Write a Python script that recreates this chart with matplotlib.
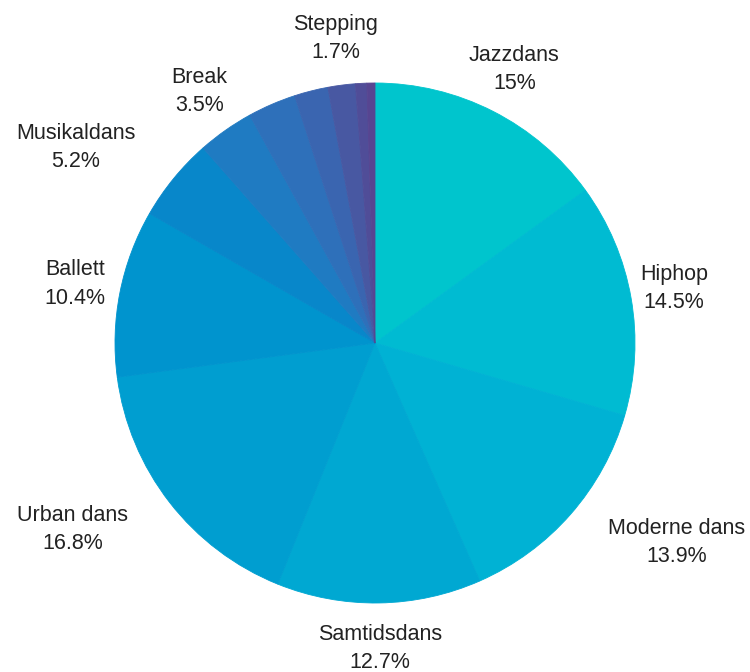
import numpy as np
import matplotlib
matplotlib.use("Agg")
import matplotlib.pyplot as plt

# 数据（顺时针，从正上方开始）
names = ["Jazzdans", "Hiphop", "Moderne dans", "Samtidsdans", "Urban dans",
         "Ballett", "Musikaldans", "Break", None, None, "Stepping", None, None]
values = [15, 14.5, 13.9, 12.7, 16.8, 10.4, 5.2, 3.5, 3.0, 2.1, 1.7, 0.7, 0.5]
pct_labels = ["15%", "14.5%", "13.9%", "12.7%", "16.8%", "10.4%", "5.2%",
              "3.5%", "", "", "1.7%", "", ""]
colors = ["#00C5CD", "#00BBD2", "#00B2D4", "#00A8D2", "#009ED0", "#0094CE",
          "#0887CA", "#1F7BC2", "#2E70BA", "#3A65B0", "#4858A2", "#504D98",
          "#574591"]

# 标签布局：距离（半径倍数）和角度微调（度）
label_dist = [1.18, 1.04, 1.18, 1.175, 1.19, 1.06, 1.19, 1.12, 0, 0, 1.18, 0, 0]
label_nudge = [0, -1.8, -0.7, 0, 0.7, 1.2, 0, 4.7, 0, 0, 0, 0, 0]

plt.rcParams['font.family'] = ['Liberation Sans', 'DejaVu Sans']

fig = plt.figure(figsize=(7.5, 6.72), dpi=100)
ax = fig.add_axes([115 / 750, 69 / 672, 520 / 750, 520 / 672])

wedges, _ = ax.pie(values, startangle=90, counterclock=False, colors=colors,
                   radius=1, wedgeprops=dict(linewidth=0.6))
for w in wedges:
    w.set_edgecolor(w.get_facecolor())

ax.set_xlim(-1, 1)
ax.set_ylim(-1, 1)
ax.set_aspect("equal")
ax.axis("off")

# 标签
total = sum(values)
cum = 0
for i, (name, v, p) in enumerate(zip(names, values, pct_labels)):
    mid = (cum + v / 2) / total * 2 * np.pi
    cum += v
    if name is None:
        continue
    ang = mid + np.radians(label_nudge[i])
    d = label_dist[i]
    x = d * np.sin(ang)
    y = d * np.cos(ang)
    if np.sin(mid) > 0.5:
        ha = "left"
    elif np.sin(mid) < -0.5:
        ha = "right"
    else:
        ha = "center"
    ax.text(x, y, f"{name}\n{p}", ha=ha, va="center", multialignment="center",
            fontsize=15.5, color="#222222", linespacing=1.45, clip_on=False)

fig.savefig("out.png", dpi=100)
